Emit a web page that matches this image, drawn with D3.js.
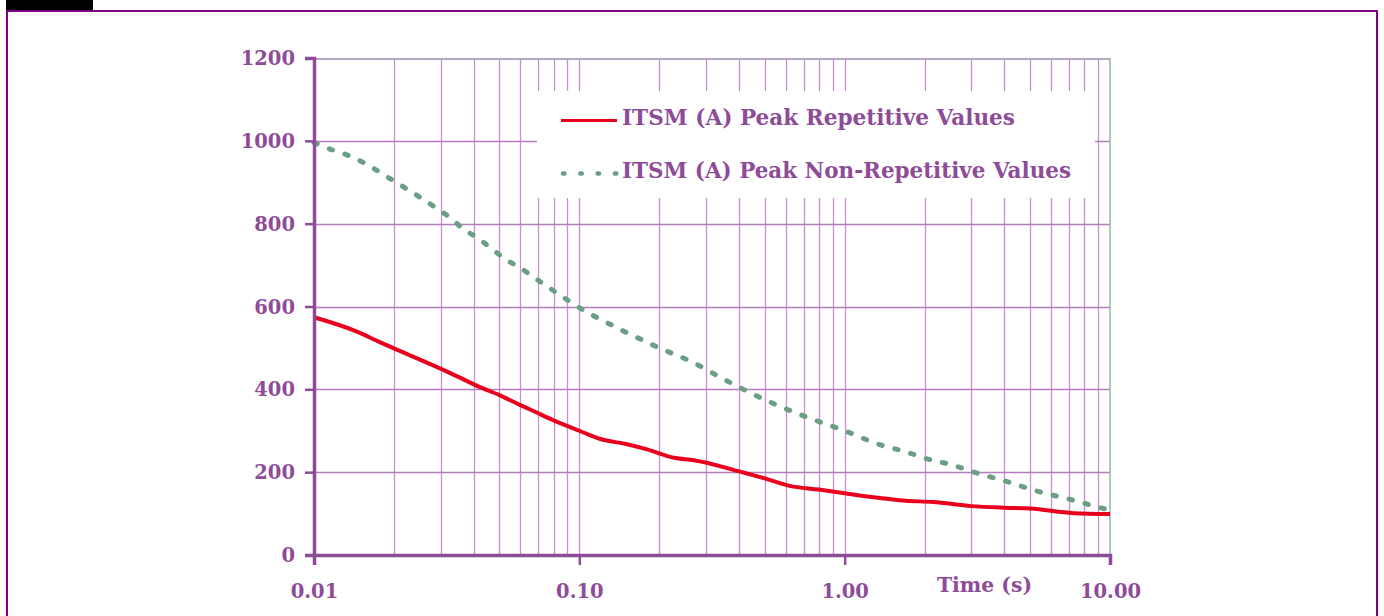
<!DOCTYPE html>
<html>
<head>
<meta charset="utf-8">
<script src="https://cdn.jsdelivr.net/npm/d3@7"></script>
<style>
  html, body { margin: 0; padding: 0; background: #ffffff; }
  svg { display: block; }
  text { font-family: "DejaVu Serif", "Liberation Serif", serif; font-weight: bold; fill: #8e4b98; }
</style>
</head>
<body>
<svg id="chart" width="1384" height="616"></svg>
<script>
// ---- data ----
const repTime   = [0.01, 0.0143, 0.0177, 0.02, 0.03, 0.035, 0.042, 0.05, 0.06, 0.069, 0.08, 0.1, 0.12, 0.15, 0.18, 0.23, 0.27, 0.4, 0.5, 0.62, 0.8, 1.0, 1.26, 1.7, 2.15, 3.0, 4.0, 5.0, 7.3, 10];
const repValues = [574, 541, 514, 499, 450, 430, 406, 386, 362, 344, 325, 300, 280, 268, 255, 234, 229, 202, 185, 167, 158, 149, 140, 131, 128, 118, 114, 112, 101, 99];

const nonRepTime   = [0.01, 0.0115, 0.0133, 0.0153, 0.0172, 0.02, 0.023, 0.029, 0.033, 0.0365, 0.0415, 0.0466, 0.053, 0.06, 0.069, 0.08, 0.09, 0.1, 0.127, 0.159, 0.2, 0.27, 0.34, 0.43, 0.56, 0.74, 1.0, 1.32, 1.74, 2.0, 2.65, 3.0, 4.0, 5.4, 7.3, 8.5, 10];
const nonRepValues = [996, 980, 966, 948, 929, 903, 879, 837, 812, 787, 765, 740, 713, 693, 666, 638, 616, 597, 561, 530, 500, 464, 429, 395, 361, 330, 300, 269, 247, 234, 214, 202, 179, 153, 132, 120, 108];

const yTicks = [0, 200, 400, 600, 800, 1000, 1200];
const xTicks = [0.01, 0.1, 1, 10];
const xTickLabels = ["0.01", "0.10", "1.00", "10.00"];
const xMinorGrid = [0.02,0.03,0.04,0.05,0.06,0.07,0.08,0.09,0.1,0.2,0.3,0.4,0.5,0.6,0.7,0.8,0.9,1,2,3,4,5,6,7,8,9];
const legendLabels = ["ITSM (A) Peak Repetitive Values", "ITSM (A) Peak Non-Repetitive Values"];
const xTitle = "Time (s)";

// ---- layout ----
const svg = d3.select("#chart");
const X0 = 314, X1 = 1110, Y0 = 555, Y1 = 58;
const x = d3.scaleLog().domain([0.01, 10]).range([X0, X1]);
const y = d3.scaleLinear().domain([0, 1200]).range([Y0, Y1]);

const PURPLE = "#8e4b98";
const GRID = "#c88ecf";
const RED = "#e8001c";
const GREEN = "#6b9e84";

// outer frame
svg.append("rect").attr("x", 6).attr("y", 0).attr("width", 87).attr("height", 11).attr("fill", "#000");
svg.append("path")
  .attr("d", "M7,616 L7,11 L1377,11 L1377,616")
  .attr("fill", "none").attr("stroke", "#800080").attr("stroke-width", 2);

// grid
const grid = svg.append("g");
grid.selectAll("line.v").data(xMinorGrid).join("line")
  .attr("x1", d => Math.round(x(d)) + 0.5).attr("x2", d => Math.round(x(d)) + 0.5)
  .attr("y1", Y1).attr("y2", Y0)
  .attr("stroke", GRID).attr("stroke-width", 1.3);
grid.selectAll("line.h").data(yTicks.filter(d => d > 0 && d < 1200)).join("line")
  .attr("x1", X0).attr("x2", X1)
  .attr("y1", d => Math.round(y(d)) + 0.5).attr("y2", d => Math.round(y(d)) + 0.5)
  .attr("stroke", "#b67dbe").attr("stroke-width", 1.3);

// top and right borders of plot
svg.append("line").attr("x1", X0).attr("x2", X1).attr("y1", Y1 + 1).attr("y2", Y1 + 1)
  .attr("stroke", "#b9a7c2").attr("stroke-width", 2.2);
svg.append("line").attr("x1", X1).attr("x2", X1).attr("y1", Y1).attr("y2", Y0)
  .attr("stroke", "#8fb89f").attr("stroke-width", 1.5);

// legend background (covers grid)
const legend = svg.append("g");
legend.append("rect").attr("x", 537).attr("y", 91).attr("width", 558).attr("height", 107).attr("fill", "#fff");

// series
const line = d3.line().x(d => x(d[0])).y(d => y(d[1])).curve(d3.curveMonotoneX);
svg.append("path")
  .datum(nonRepTime.map((t, i) => [t, nonRepValues[i]]))
  .attr("d", line).attr("fill", "none")
  .attr("stroke", GREEN).attr("stroke-width", 5)
  .attr("stroke-linecap", "round").attr("stroke-dasharray", "3.5,13");
svg.append("path")
  .datum(repTime.map((t, i) => [t, repValues[i]]))
  .attr("d", line).attr("fill", "none")
  .attr("stroke", RED).attr("stroke-width", 4).attr("stroke-linejoin", "round");

// axes
const yAxis = d3.axisLeft(y).tickValues(yTicks).tickSize(9).tickPadding(10).tickFormat(d3.format("d"));
const gy = svg.append("g").attr("transform", `translate(${X0},0)`).call(yAxis);
gy.select(".domain").attr("stroke", PURPLE).attr("stroke-width", 3.5);
gy.selectAll(".tick line").attr("stroke", PURPLE).attr("stroke-width", 2.5);
gy.selectAll(".tick text").attr("font-size", 19.5).attr("dy", "0.34em")
  .attr("fill", PURPLE).attr("font-family", "DejaVu Serif").attr("font-weight", "bold");

const xAxis = d3.axisBottom(x).tickValues(xTicks).tickSize(10).tickPadding(19)
  .tickFormat((d, i) => xTickLabels[i]);
const gx = svg.append("g").attr("transform", `translate(0,${Y0})`).call(xAxis);
gx.select(".domain").attr("stroke", PURPLE).attr("stroke-width", 3.5);
gx.selectAll(".tick line").attr("stroke", PURPLE).attr("stroke-width", 2.5);
gx.selectAll(".tick text").attr("font-size", 19.5)
  .attr("fill", PURPLE).attr("font-family", "DejaVu Serif").attr("font-weight", "bold");

svg.append("text").attr("x", 937).attr("y", 591.5)
  .attr("font-size", 21).attr("textLength", 95).attr("lengthAdjust", "spacingAndGlyphs").text(xTitle);

// legend items
legend.append("line").attr("x1", 561).attr("x2", 617).attr("y1", 120.5).attr("y2", 120.5)
  .attr("stroke", RED).attr("stroke-width", 3);
legend.append("line").attr("x1", 563).attr("x2", 619).attr("y1", 173.5).attr("y2", 173.5)
  .attr("stroke", GREEN).attr("stroke-width", 4.5)
  .attr("stroke-linecap", "round").attr("stroke-dasharray", "1.5,15.8");
const legendWidths = [393, 449];
legend.selectAll("text.lg").data(legendLabels).join("text")
  .attr("x", 622).attr("y", (d, i) => 125 + i * 52.5)
  .attr("font-size", 21.5)
  .attr("textLength", (d, i) => legendWidths[i]).attr("lengthAdjust", "spacingAndGlyphs")
  .text(d => d);
</script>
</body>
</html>
